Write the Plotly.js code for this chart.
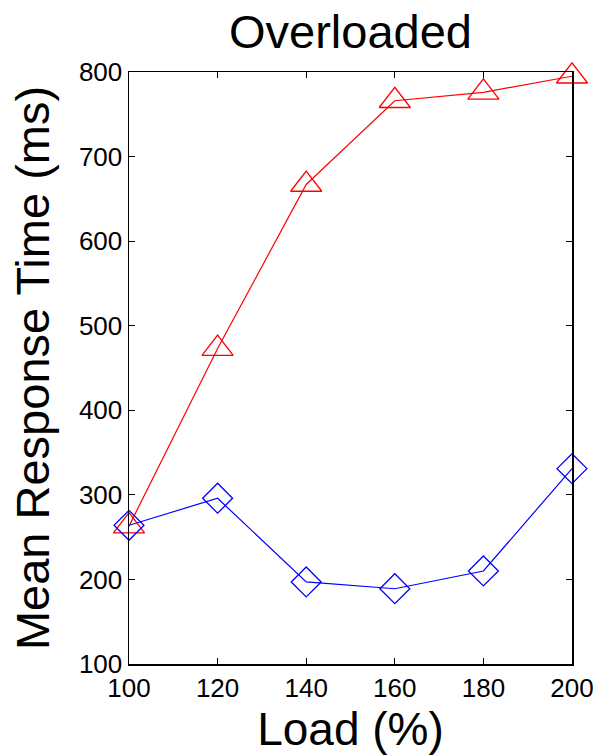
<!DOCTYPE html>
<html>
<head>
<meta charset="utf-8">
<script src="https://cdn.plot.ly/plotly-3.0.1.min.js"></script>
<style>html,body{margin:0;padding:0;background:#fff;}#chart{width:596px;height:755px;}</style>
</head>
<body>
<div id="chart"></div>
<script>
const loadPct = [100, 120, 140, 160, 180, 200];
const redSeries = [263, 473, 667, 766, 776, 795];
const blueSeries = [264, 296, 197, 189, 210, 331];
const xTicks = [100, 120, 140, 160, 180, 200];
const yTicks = [100, 200, 300, 400, 500, 600, 700, 800];

const FONT = '"Liberation Sans", Arial, Helvetica, sans-serif';

const traces = [
  {
    x: loadPct, y: redSeries, type: 'scatter', mode: 'lines+markers',
    line: {color: '#ff0000', width: 1.2},
    marker: {symbol: 'triangle-up-open', size: 27, color: '#ff0000', line: {color: '#ff0000', width: 1.3}},
    showlegend: false, cliponaxis: false
  },
  {
    x: loadPct, y: blueSeries, type: 'scatter', mode: 'lines+markers',
    line: {color: '#0000ff', width: 1.2},
    marker: {symbol: 'diamond-open', size: 23, color: '#0000ff', line: {color: '#0000ff', width: 1.3}},
    showlegend: false, cliponaxis: false
  }
];

const layout = {
  width: 596, height: 755,
  margin: {l: 129, r: 24, t: 72, b: 91},
  paper_bgcolor: '#fff', plot_bgcolor: '#fff',
  font: {family: FONT, color: '#000'},
  title: {text: 'Overloaded', font: {size: 47, family: FONT, color: '#000'},
          x: 0.5, xanchor: 'center', xref: 'paper', y: 0.958, yanchor: 'middle', yref: 'container'},
  xaxis: {
    range: [100, 200], tickvals: xTicks, ticktext: xTicks.map(String),
    ticks: 'inside', ticklen: 6, tickwidth: 1, tickcolor: '#000',
    showline: true, linecolor: '#000', linewidth: 1.5, mirror: 'ticks',
    showgrid: false, zeroline: false,
    tickfont: {size: 26, family: FONT, color: '#000'},
    title: {text: 'Load (%)', font: {size: 46, family: FONT, color: '#000'}, standoff: 4},
    automargin: false
  },
  yaxis: {
    range: [100, 800], tickvals: yTicks, ticktext: yTicks.map(String),
    ticks: 'inside', ticklen: 6, tickwidth: 1, tickcolor: '#000',
    showline: true, linecolor: '#000', linewidth: 1.5, mirror: 'ticks',
    showgrid: false, zeroline: false,
    tickfont: {size: 26, family: FONT, color: '#000'},
    title: {text: 'Mean Response Time (ms)', font: {size: 47, family: FONT, color: '#000'}, standoff: 14},
    automargin: false
  }
};

Plotly.newPlot('chart', traces, layout, {displayModeBar: false, staticPlot: true});
</script>
</body>
</html>
